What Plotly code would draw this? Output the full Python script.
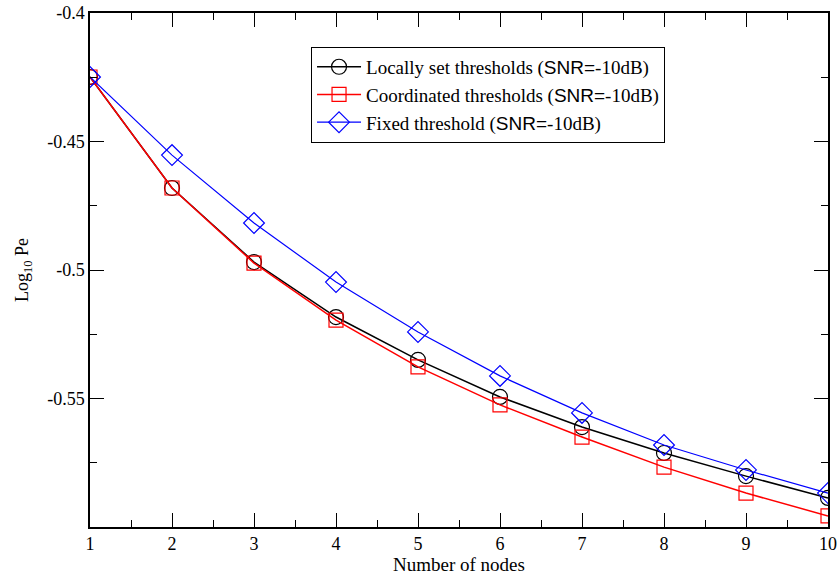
import plotly.graph_objects as go

nodes = [1, 2, 3, 4, 5, 6, 7, 8, 9, 10]
local_pe = [-0.4249, -0.4681, -0.4969, -0.5183, -0.5350, -0.5494, -0.5611, -0.5712, -0.5802, -0.5887]
coord_pe = [-0.4249, -0.4681, -0.4973, -0.5195, -0.5377, -0.5525, -0.5650, -0.5767, -0.5868, -0.5957]
fixed_pe = [-0.4249, -0.4553, -0.4817, -0.5047, -0.5241, -0.5412, -0.5556, -0.5681, -0.5778, -0.5868]

y_ticks = [-0.55, -0.5, -0.45, -0.4]
y_labels = ["-0.55", "-0.5", "-0.45", "-0.4"]

SERIF = "Liberation Serif"
SNR = '<span style="font-family:Liberation Sans">SNR=</span>'

fig = go.Figure()
fig.add_trace(go.Scatter(
    x=nodes, y=local_pe, mode="lines+markers",
    name=f"Locally set thresholds ({SNR}-10dB)",
    line=dict(color="black", width=1.5),
    marker=dict(symbol="circle-open", size=15, color="black", line=dict(width=1.2)),
))
fig.add_trace(go.Scatter(
    x=nodes, y=coord_pe, mode="lines+markers",
    name=f"Coordinated thresholds ({SNR}-10dB)",
    line=dict(color="red", width=1.5),
    marker=dict(symbol="square-open", size=14, color="red", line=dict(width=1.2)),
))
fig.add_trace(go.Scatter(
    x=nodes, y=fixed_pe, mode="lines+markers",
    name=f"Fixed threshold ({SNR}-10dB)",
    line=dict(color="blue", width=1.2),
    marker=dict(symbol="diamond-open", size=16, color="blue", line=dict(width=1.2)),
))

axis_common = dict(
    showline=True, linecolor="black", linewidth=1.5, mirror="ticks",
    ticks="inside", ticklen=14, tickwidth=1, tickcolor="black",
    showgrid=False, zeroline=False, automargin=False,
    tickfont=dict(family=SERIF, size=18, color="black"),
)

fig.update_xaxes(
    range=[1, 10], tickvals=nodes, **axis_common,
    minor=dict(ticks="inside", ticklen=7, tickcolor="black", dtick=0.5, tick0=1, showgrid=False),
    title=dict(text="Number of nodes", font=dict(family=SERIF, size=19, color="black"), standoff=2),
)
fig.update_yaxes(
    range=[-0.6, -0.4], tickvals=y_ticks, ticktext=y_labels, **axis_common,
    minor=dict(ticks="inside", ticklen=7, tickcolor="black", tickvals=[-0.575, -0.525, -0.475, -0.425], showgrid=False),
    title=dict(text="Log<sub>10</sub> Pe", font=dict(family=SERIF, size=18, color="black"), standoff=14),
)

fig.update_layout(
    width=840, height=580,
    margin=dict(l=90, r=12, t=13, b=53, autoexpand=False),
    paper_bgcolor="white", plot_bgcolor="white",
    font=dict(family=SERIF, size=18, color="black"),
    showlegend=True,
    legend=dict(
        x=0.2995, y=0.934, xanchor="left", yanchor="top",
        bgcolor="white", bordercolor="black", borderwidth=1,
        font=dict(family=SERIF, size=19, color="black"),
        itemwidth=44, tracegroupgap=0,
    ),
)

fig.write_html("out.html")
